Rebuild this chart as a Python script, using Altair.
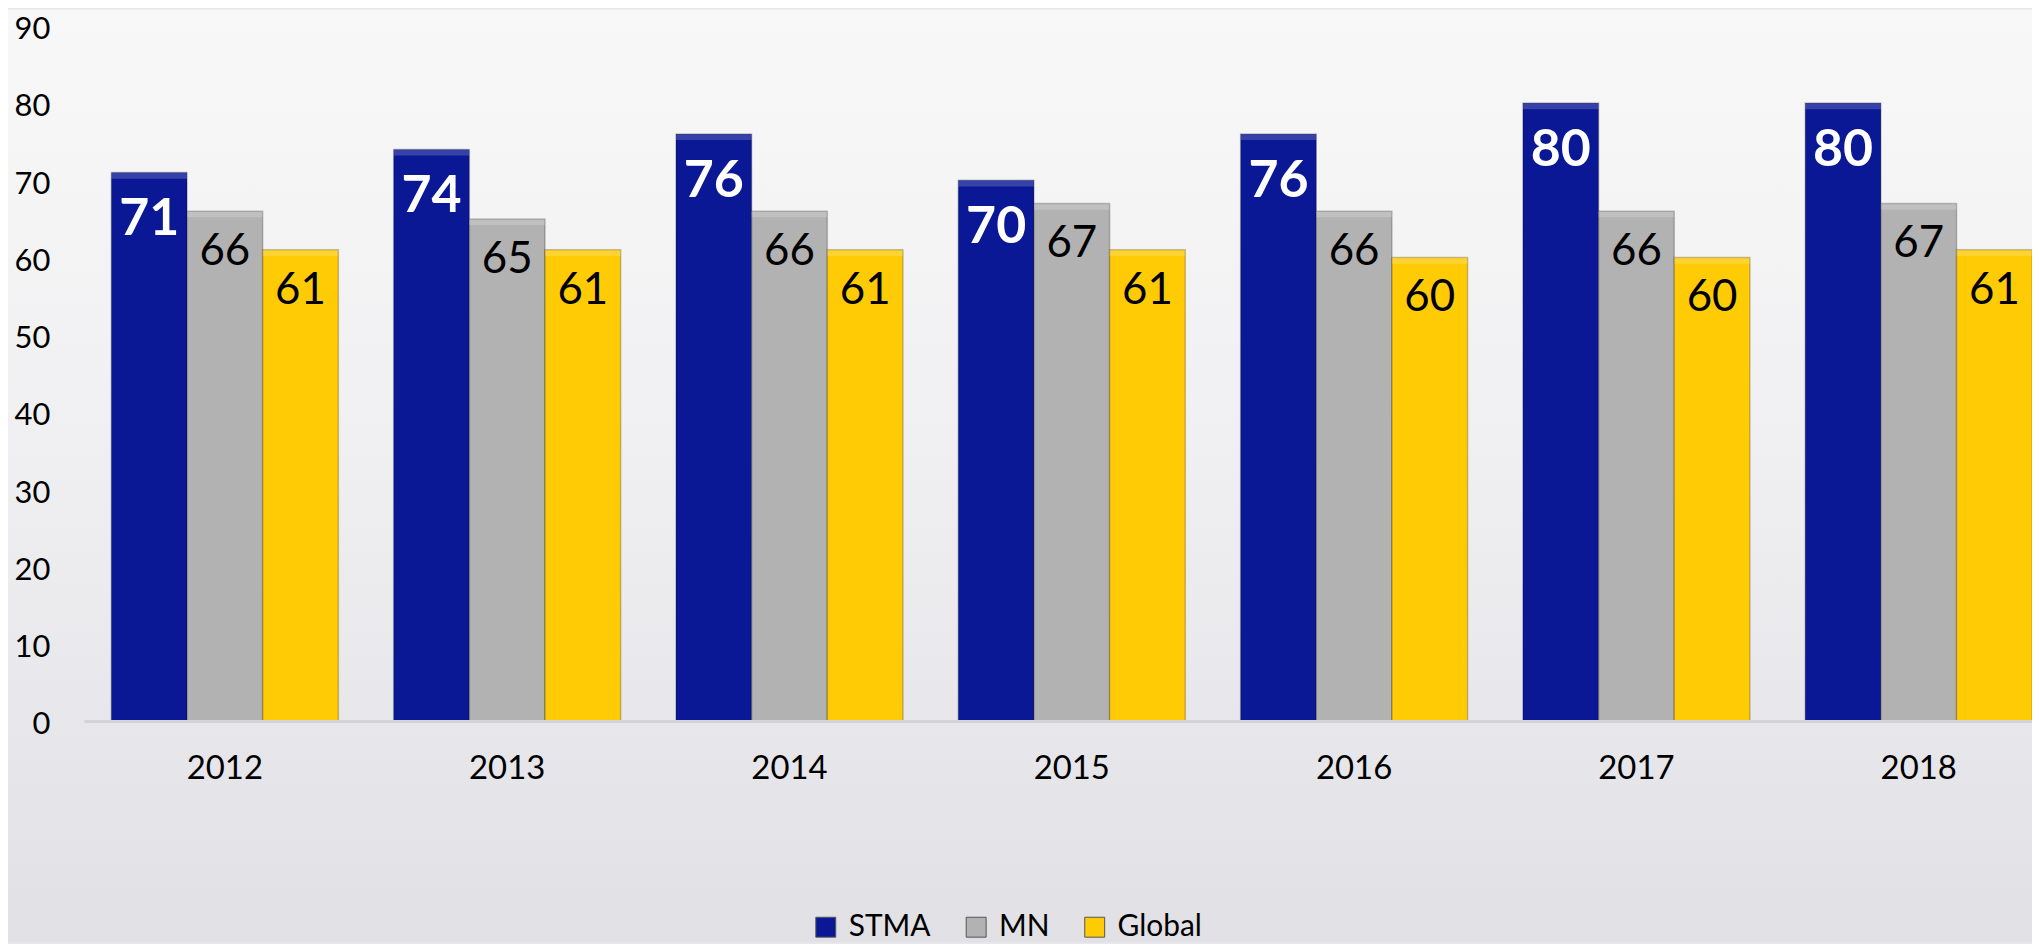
import altair as alt
import pandas as pd

years = ["2012", "2013", "2014", "2015", "2016", "2017", "2018"]
stma = [71, 74, 76, 70, 76, 80, 80]
mn = [66, 65, 66, 67, 66, 66, 67]
glob = [61, 61, 61, 61, 60, 60, 61]
series = ["STMA", "MN", "Global"]
colors = ["#0A1896", "#B2B2B2", "#FFCB05"]
y_ticks = [0, 10, 20, 30, 40, 50, 60, 70, 80, 90]

rows = []
for i, yr in enumerate(years):
    for s, vals in zip(series, [stma, mn, glob]):
        rows.append({"year": yr, "series": s, "value": vals[i]})
df = pd.DataFrame(rows)

W = 1956
H = 698
PAD_L, PAD_T, PAD_B = 76, 16, 222
FONT = "Lato"

x_enc = alt.X(
    "year:N", title=None, sort=years,
    scale=alt.Scale(range=[0, 1984], paddingInner=0.196, paddingOuter=0.098),
    axis=alt.Axis(labelAngle=0, ticks=False, tickSize=0, domainColor="#D4D4D6",
                  domainWidth=3, labelFontSize=33, labelPadding=32,
                  labelColor="#000000", labelFont=FONT, zindex=1),
)
xo_enc = alt.XOffset("series:N", sort=series,
                     scale=alt.Scale(domain=series, paddingInner=0.0))
y_enc = alt.Y(
    "value:Q", scale=alt.Scale(domain=[0, 90]),
    axis=alt.Axis(values=y_ticks, grid=False, domain=False, ticks=False, tickSize=0,
                  labelFontSize=31, labelPadding=34, labelOffset=4,
                  labelColor="#000000", labelFont=FONT, title=None, zindex=1),
)

bg = alt.Chart(pd.DataFrame({"a": [0]})).mark_rect(
    fill=alt.LinearGradient(
        gradient="linear",
        stops=[alt.GradientStop(color="#F8F8F8", offset=0),
               alt.GradientStop(color="#F0F0F2", offset=0.45),
               alt.GradientStop(color="#E1E0E5", offset=1)],
        x1=0, x2=0, y1=0, y2=1,
    )
).encode(
    x=alt.value(-PAD_L), x2=alt.value(W + 10),
    y=alt.value(-PAD_T), y2=alt.value(H + PAD_B),
)

base = alt.Chart(df)

bars = base.mark_bar(stroke="#000000", strokeOpacity=0.22, strokeWidth=1.5).encode(
    x=x_enc, xOffset=xo_enc, y=y_enc,
    color=alt.Color(
        "series:N", sort=series,
        scale=alt.Scale(domain=series, range=colors),
        legend=alt.Legend(
            title=None, orient="none", legendX=730, legendY=890,
            direction="horizontal", symbolType="square", symbolSize=400,
            symbolStrokeWidth=1, symbolStrokeColor="#555555",
            labelFontSize=30, labelFont=FONT, labelColor="#000000",
            labelOffset=8, columnPadding=30, padding=0, zindex=2,
        ),
    ),
)

highlight = base.transform_calculate(top="datum.value - 0.8").mark_bar(
    color="#FFFFFF", opacity=0.18, strokeWidth=0,
).encode(
    x=x_enc, xOffset=xo_enc, y=y_enc, y2="top:Q",
)

stma_text = base.transform_filter(alt.datum.series == "STMA").mark_text(
    baseline="alphabetic", dy=63, fontSize=52, fontWeight="bold",
    color="#FFFFFF", font=FONT,
).encode(x=x_enc, xOffset=xo_enc, y=y_enc, text="value:Q")

other_text = base.transform_filter(alt.datum.series != "STMA").mark_text(
    baseline="alphabetic", dy=54, fontSize=44, color="#000000", font=FONT,
).encode(x=x_enc, xOffset=xo_enc, y=y_enc, text="value:Q")

chart = alt.layer(bg, bars, highlight, stma_text, other_text).properties(
    width=W, height=H,
    autosize=alt.AutoSizeParams(type="none"),
    padding={"left": PAD_L, "top": PAD_T, "right": 0, "bottom": PAD_B},
    background="#E8E8EB",
).configure_view(stroke=None)

chart.save("out.html", embed_options={"renderer": "svg", "actions": False})
